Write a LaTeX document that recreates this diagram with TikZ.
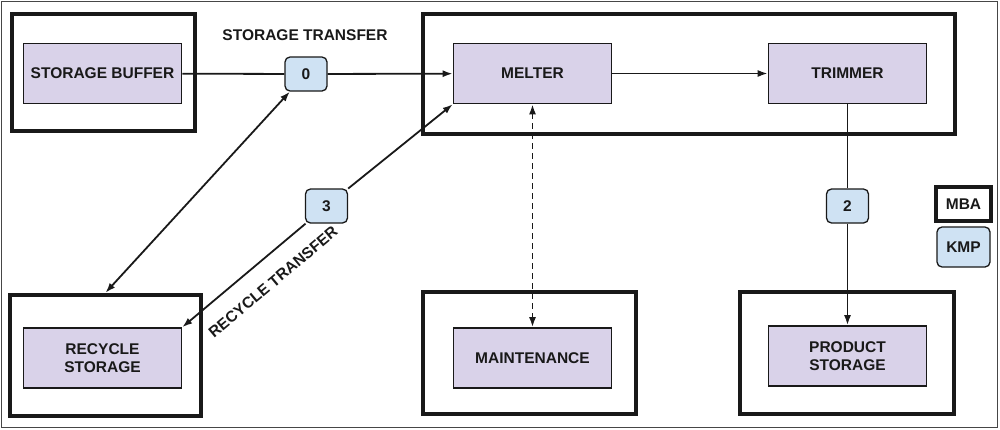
\documentclass[tikz,border=0pt]{standalone}
\usepackage{fontspec}
\setmainfont{Liberation Sans}
\usepackage{tikz}
\usetikzlibrary{arrows.meta}
\newcommand{\mbaarea}[5]{
	\node[mba, minimum width=#4pt, minimum height=#5pt] (#1) at (#2,#3) {}; % thick frame of a material balance area
}
\definecolor{unitfill}{RGB}{217,210,233}
\definecolor{kmpfill}{RGB}{207,226,243}
\definecolor{framegray}{RGB}{70,70,70}
\definecolor{inkblack}{RGB}{25,25,25}

\begin{document}
\begin{tikzpicture}[x=1pt,y=-1pt, >={Latex[length=10pt,width=7pt]},
	font=\fontsize{15.5}{18}\selectfont\bfseries, text=inkblack,
	mba/.style={draw=inkblack, line width=4.5pt, inner sep=0pt},
	unit/.style={draw=inkblack, line width=1.6pt, fill=unitfill, minimum width=158pt, minimum height=60pt, align=center, inner sep=0pt},
	kmp/.style={draw=inkblack, line width=1.3pt, fill=kmpfill, rounded corners=5pt, minimum width=42pt, minimum height=34pt, inner sep=0pt},
	flow/.style={draw=inkblack, line width=1.8pt}]
	\useasboundingbox (0,0) rectangle (1000,429);
	% outer frame
	\draw[framegray, line width=1.5pt] (1.5,1.5) rectangle (997.5,427.5);
	
	% material balance areas
	\mbaarea{mbasb}{103.5}{72.5}{183}{117}
	\mbaarea{mbamelt}{689}{74}{532}{120}
	\mbaarea{mbarec}{105.5}{355.5}{191}{121}
	\mbaarea{mbamaint}{529.5}{353}{213}{122}
	\mbaarea{mbaprod}{847}{353}{214}{122}
	
	% process units
	\node[unit] (buffer) at (102.5,73.5) {STORAGE BUFFER};
	\node[unit] (melter) at (532.5,73.5) {MELTER};
	\node[unit] (trimmer) at (847.5,73.5) {TRIMMER};
	\node[unit] (recycle) at (102.5,358) {RECYCLE\\STORAGE};
	\node[unit] (maint) at (532.5,358) {MAINTENANCE};
	\node[unit] (prod) at (847.5,356) {PRODUCT\\STORAGE};
	
	% key measurement points
	\node[kmp] (kmp0) at (306,74) {0};
	\node[kmp] (kmp3) at (326.5,206) {3};
	\node[kmp] (kmp2) at (847.5,206) {2};
	
	% legend
	\node[mba, minimum width=55pt, minimum height=34pt] (legmba) at (963.5,204) {MBA};
	\node[kmp, minimum width=53pt, minimum height=40pt] (legkmp) at (963.5,247) {KMP};
	
	% flows
	\draw[flow] (buffer) -- (kmp0);
	\draw[flow, ->] (kmp0) -- (melter);
	\draw[flow, ->] (melter) -- (trimmer);
	\draw[flow, <->] (kmp0) -- (mbarec.north);
	\draw[flow, ->] (kmp3) -- (melter.south west);
	\draw[flow, ->] (kmp3) -- (recycle.north east);
	\draw[flow, <->, dash pattern=on 6pt off 4pt] (melter) -- (maint);
	\draw[flow] (trimmer) -- (kmp2);
	\draw[flow, ->] (kmp2) -- (prod);
	
	% transfer labels
	\node (storlbl) at (305,35) {STORAGE TRANSFER};
	\node[rotate=40] (reclbl) at (273,282) {RECYCLE TRANSFER};
\end{tikzpicture}
\end{document}
